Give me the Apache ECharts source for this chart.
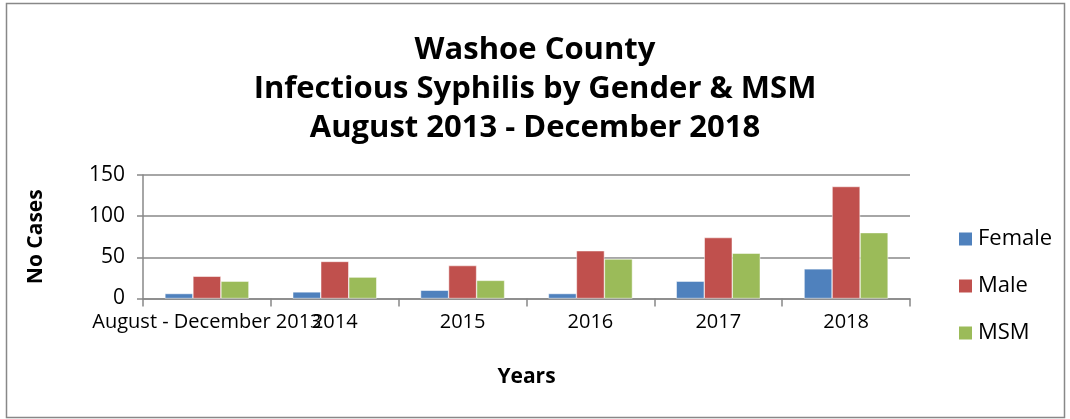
<!DOCTYPE html>
<html>
<head>
<meta charset="utf-8">
<script src="https://cdn.jsdelivr.net/npm/echarts@6/dist/echarts.min.js"></script>
<style>
  html, body { margin: 0; padding: 0; background: #fff; }
  #chart { width: 1070px; height: 419px; }
</style>
</head>
<body>
<div id="chart"></div>
<script>
  var years = ['August - December 2013', '2014', '2015', '2016', '2017', '2018'];
  var female = [6, 8, 10, 6, 21, 36];
  var male = [27, 45, 40, 58, 74, 136];
  var msm = [21, 26, 22, 48, 55, 80];
  var yTicks = [0, 50, 100, 150];

  var font = '"Open Sans", "Liberation Sans", sans-serif';

  var myChart = echarts.init(document.getElementById('chart'));

  var option = {
    animation: false,
    textStyle: { fontFamily: font },
    title: {
      text: 'Washoe County\nInfectious Syphilis by Gender & MSM\nAugust 2013 - December 2018',
      left: 530,
      top: 26,
      textAlign: 'center',
      textStyle: {
        fontSize: 31,
        fontWeight: 'bold',
        color: '#000',
        lineHeight: 39,
        fontFamily: font
      }
    },
    graphic: [{
      type: 'rect',
      shape: { x: 6.5, y: 3.5, width: 1058, height: 414 },
      style: { fill: 'none', stroke: '#888', lineWidth: 1.5 },
      silent: true
    }],
    legend: {
      orient: 'vertical',
      left: 952,
      top: 223,
      itemWidth: 15,
      itemHeight: 15,
      itemGap: 25,
      icon: 'rect',
      textStyle: { fontSize: 22, color: '#000', fontFamily: font },
      data: ['Female', 'Male', 'MSM']
    },
    grid: {
      left: 143,
      right: 1070 - 910,
      top: 175,
      bottom: 419 - 298.5,
      containLabel: false
    },
    xAxis: {
      type: 'category',
      data: years,
      name: 'Years',
      nameLocation: 'middle',
      nameGap: 68,
      nameTextStyle: { fontSize: 21, fontWeight: 'bold', color: '#000' },
      axisLine: { lineStyle: { color: '#888', width: 1.5 } },
      axisTick: { show: true, length: 8, lineStyle: { color: '#888', width: 1.5 } },
      axisLabel: { interval: 0, hideOverlap: false, fontSize: 20, color: '#000', margin: 14 }
    },
    yAxis: {
      type: 'value',
      min: yTicks[0],
      max: yTicks[yTicks.length - 1],
      interval: 50,
      name: 'No Cases',
      nameLocation: 'middle',
      nameGap: 96,
      nameRotate: 90,
      nameTextStyle: { fontSize: 21, fontWeight: 'bold', color: '#000' },
      axisLine: { show: true, lineStyle: { color: '#888', width: 1.5 } },
      axisTick: { show: true, length: 6, lineStyle: { color: '#888', width: 1.5 } },
      axisLabel: { fontSize: 21, color: '#000', margin: 18 },
      splitLine: { lineStyle: { color: '#888', width: 1.5 } }
    },
    series: [
      {
        name: 'Female', type: 'bar', data: female, barWidth: 28, barGap: '0%',
        itemStyle: { color: '#4F81BD', borderColor: '#fff', borderWidth: 0.5 }
      },
      {
        name: 'Male', type: 'bar', data: male, barWidth: 28, barGap: '0%',
        itemStyle: { color: '#C0504D', borderColor: '#fff', borderWidth: 0.5 }
      },
      {
        name: 'MSM', type: 'bar', data: msm, barWidth: 28, barGap: '0%',
        itemStyle: { color: '#9BBB59', borderColor: '#fff', borderWidth: 0.5 }
      }
    ]
  };

  myChart.setOption(option);
</script>
</body>
</html>
